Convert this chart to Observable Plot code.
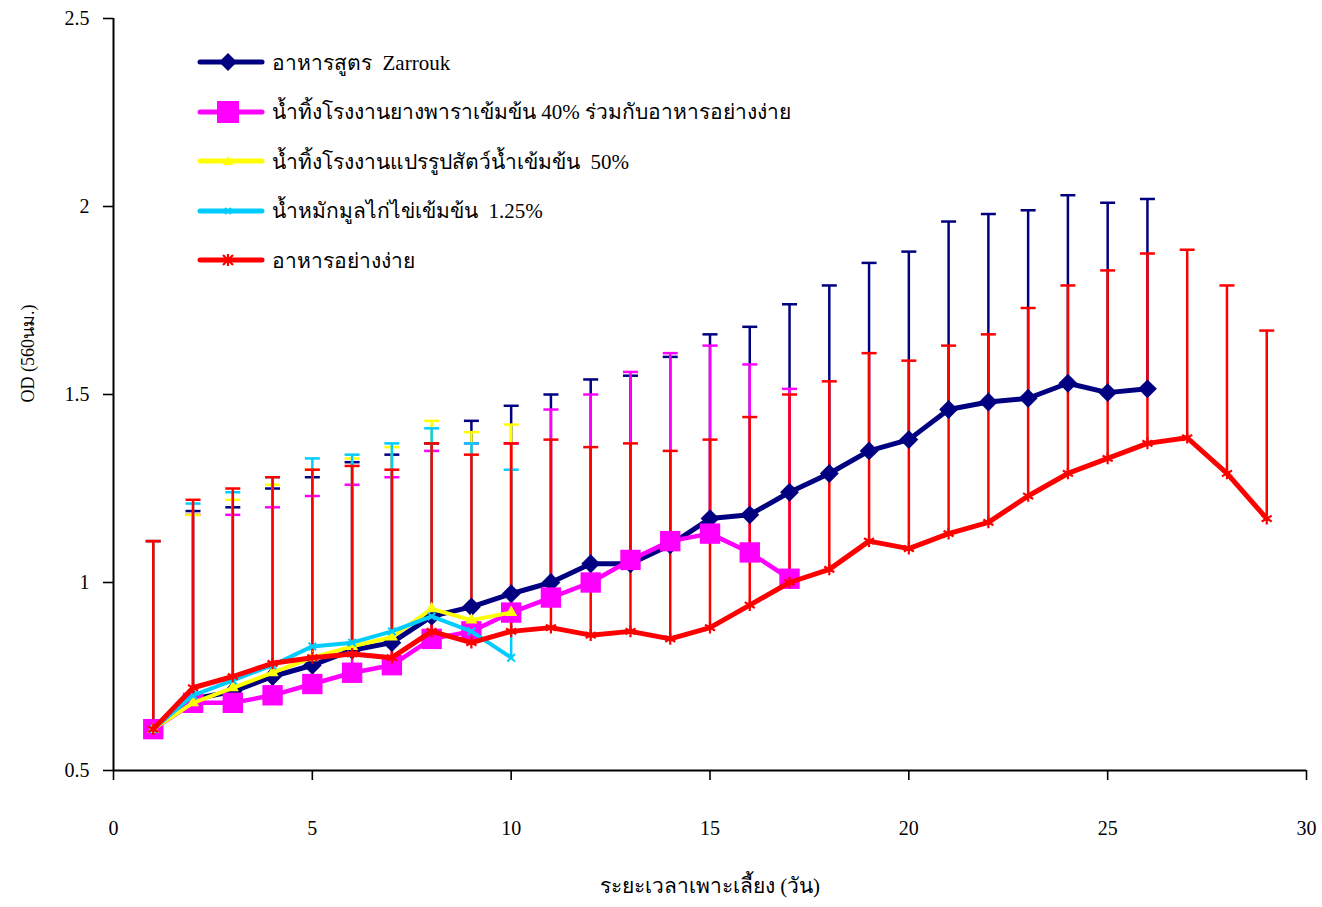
<!DOCTYPE html>
<html>
<head>
<meta charset="utf-8">
<script src="https://cdn.jsdelivr.net/npm/d3@7"></script>
<script src="https://cdn.jsdelivr.net/npm/@observablehq/plot@0.6"></script>
<style>
  html, body { margin: 0; padding: 0; background: #fff; }
  #wrap { position: relative; width: 1322px; height: 907px; font-family: "Liberation Serif", "Times New Roman", serif; }
  #legend { position: absolute; left: 196px; top: 44px; font-size: 21px; color: #000; }
  .row { position: absolute; left: 0; height: 36px; white-space: pre; display: flex; align-items: center; }
  .row svg { flex: none; }
  .row span { margin-left: 6px; white-space: pre; }
</style>
</head>
<body>
<div id="wrap"><div id="chart"></div><div id="legend"></div></div>
<script>
// ---- data ----
const seriesNames = [
  "อาหารสูตร  Zarrouk",
  "น้ำทิ้งโรงงานยางพาราเข้มข้น 40% ร่วมกับอาหารอย่างง่าย",
  "น้ำทิ้งโรงงานแปรรูปสัตว์น้ำเข้มข้น  50%",
  "น้ำหมักมูลไก่ไข่เข้มข้น  1.25%",
  "อาหารอย่างง่าย"
];
const seriesColors = ["#000080", "#FF00FF", "#FFFF00", "#00CCFF", "#FF0000"];

const daysZarrouk = [1,2,3,4,5,6,7,8,9,10,11,12,13,14,15,16,17,18,19,20,21,22,23,24,25,26];
const meanZarrouk = [0.61,0.69,0.71,0.75,0.78,0.82,0.84,0.91,0.935,0.97,1.00,1.05,1.05,1.10,1.17,1.18,1.24,1.29,1.35,1.38,1.46,1.48,1.49,1.53,1.505,1.515];
const upperZarrouk = [1.11,1.19,1.20,1.25,1.28,1.32,1.34,1.37,1.43,1.47,1.50,1.54,1.55,1.60,1.66,1.68,1.74,1.79,1.85,1.88,1.96,1.98,1.99,2.03,2.01,2.02];

const daysRubber = [1,2,3,4,5,6,7,8,9,10,11,12,13,14,15,16,17];
const meanRubber = [0.61,0.68,0.68,0.70,0.73,0.76,0.78,0.85,0.87,0.92,0.96,1.00,1.06,1.11,1.13,1.08,1.01];
const upperRubber = [1.11,1.18,1.18,1.20,1.23,1.26,1.28,1.35,1.37,1.37,1.46,1.50,1.56,1.61,1.63,1.58,1.515];

const daysSeafood = [1,2,3,4,5,6,7,8,9,10];
const meanSeafood = [0.61,0.68,0.72,0.76,0.80,0.83,0.855,0.93,0.90,0.92];
const upperSeafood = [1.11,1.18,1.22,1.26,1.30,1.33,1.36,1.43,1.40,1.42];

const daysManure = [1,2,3,4,5,6,7,8,9,10];
const meanManure = [0.61,0.70,0.74,0.78,0.83,0.84,0.87,0.91,0.87,0.80];
const upperManure = [1.11,1.21,1.24,1.28,1.33,1.34,1.37,1.41,1.37,1.30];

const daysSimple = [1,2,3,4,5,6,7,8,9,10,11,12,13,14,15,16,17,18,19,20,21,22,23,24,25,26,27,28,29];
const meanSimple = [0.61,0.72,0.75,0.785,0.80,0.81,0.80,0.87,0.84,0.87,0.88,0.86,0.87,0.85,0.88,0.94,1.00,1.035,1.11,1.09,1.13,1.16,1.23,1.29,1.33,1.37,1.385,1.29,1.17];
const upperSimple = [1.11,1.22,1.25,1.28,1.30,1.31,1.30,1.37,1.34,1.37,1.38,1.36,1.37,1.35,1.38,1.44,1.50,1.535,1.61,1.59,1.63,1.66,1.73,1.79,1.83,1.875,1.885,1.79,1.67];

const xTicks = [0,5,10,15,20,25,30];
const yTicks = [0.5,1,1.5,2,2.5];
const xLabel = "ระยะเวลาเพาะเลี้ยง (วัน)";
const yLabel = "OD (560นม.)";

// ---- build tables ----
function table(days, mean, upper) {
  return days.map((d, i) => ({day: d, mean: mean[i], upper: upper[i]}));
}
const tables = [
  table(daysZarrouk, meanZarrouk, upperZarrouk),
  table(daysRubber, meanRubber, upperRubber),
  table(daysSeafood, meanSeafood, upperSeafood),
  table(daysManure, meanManure, upperManure),
  table(daysSimple, meanSimple, upperSimple)
];

const capSymbol = { draw(ctx) { ctx.moveTo(-7.5, 0); ctx.lineTo(7.5, 0); } };

// marker styles per series
const markerStyles = [
  {symbol: "diamond2", r: 8.5, fill: seriesColors[0], stroke: "none", strokeWidth: 0},
  {symbol: "square", r: 11.5, fill: seriesColors[1], stroke: "none", strokeWidth: 0},
  {symbol: "triangle", r: 4.5, fill: seriesColors[2], stroke: "none", strokeWidth: 0},
  {symbol: "times", r: 3.5, fill: "none", stroke: seriesColors[3], strokeWidth: 2},
  {symbol: "asterisk", r: 5.5, fill: "none", stroke: seriesColors[4], strokeWidth: 2.2}
];
const lineWidths = [5, 4.5, 4, 4, 5];

const marks = [];
// error bars (one-sided, upward)
tables.forEach((t, i) => {
  marks.push(Plot.ruleX(t, {x: "day", y1: "mean", y2: "upper", stroke: seriesColors[i], strokeWidth: 2.5}));
  marks.push(Plot.dot(t, {x: "day", y: "upper", symbol: capSymbol, r: 1, stroke: seriesColors[i], strokeWidth: 2.5, fill: "none"}));
});
// lines and markers
tables.forEach((t, i) => {
  marks.push(Plot.line(t, {x: "day", y: "mean", stroke: seriesColors[i], strokeWidth: lineWidths[i], strokeLinejoin: "round"}));
  const m = markerStyles[i];
  marks.push(Plot.dot(t, {x: "day", y: "mean", symbol: m.symbol, r: m.r, fill: m.fill, stroke: m.stroke, strokeWidth: m.strokeWidth}));
});
// axes
marks.push(Plot.axisY({ticks: yTicks, tickSize: 10, tickPadding: 14, tickFormat: d => String(d), label: null, strokeWidth: 1.6, fontSize: 20}));
marks.push(Plot.axisX({ticks: xTicks, tickSize: 10, tickPadding: 40, tickFormat: d => String(d), label: null, strokeWidth: 1.6, fontSize: 20}));
marks.push(Plot.ruleX([0], {stroke: "#000", strokeWidth: 2}));
marks.push(Plot.ruleY([0.5], {stroke: "#000", strokeWidth: 2}));
marks.push(Plot.text([xLabel], {text: d => d, frameAnchor: "bottom", dy: 122, fontSize: 21}));
marks.push(Plot.text([yLabel], {text: d => d, frameAnchor: "left", dx: -85, dy: 8, rotate: -90, fontSize: 18}));

const chart = Plot.plot({
  width: 1322,
  height: 907,
  marginLeft: 113,
  marginRight: 16,
  marginTop: 18,
  marginBottom: 137,
  x: {domain: [0, 30]},
  y: {domain: [0.5, 2.5]},
  style: {fontFamily: "'Liberation Serif', 'Times New Roman', serif", fontSize: "20px", color: "#000", background: "#fff", overflow: "visible"},
  marks
});
document.getElementById("chart").appendChild(chart);

// ---- legend (inside plot area, top-left) ----
const legendShapes = [
  '<path d="M32,-9 L41,0 L32,9 L23,0 Z" fill="#000080"/>',
  '<rect x="21" y="-11" width="22" height="22" fill="#FF00FF"/>',
  '<path d="M32,-5 L37,4 L27,4 Z" fill="#FFFF00"/>',
  '<path d="M29,-3 L35,3 M35,-3 L29,3" stroke="#00CCFF" stroke-width="2"/>',
  '<path d="M27,-5 L37,5 M37,-5 L27,5 M32,-6 L32,6" stroke="#FF0000" stroke-width="2.2"/>'
];
const legend = document.getElementById("legend");
seriesNames.forEach((name, i) => {
  const row = document.createElement("div");
  row.className = "row";
  row.style.top = (i * 49.5) + "px";
  row.innerHTML = '<svg width="70" height="36" viewBox="0 -18 70 36"><line x1="4" x2="66" y1="0" y2="0" stroke="' + seriesColors[i] + '" stroke-width="5" stroke-linecap="round"/>' + legendShapes[i] + '</svg><span>' + name + '</span>';
  legend.appendChild(row);
});
</script>
</body>
</html>
